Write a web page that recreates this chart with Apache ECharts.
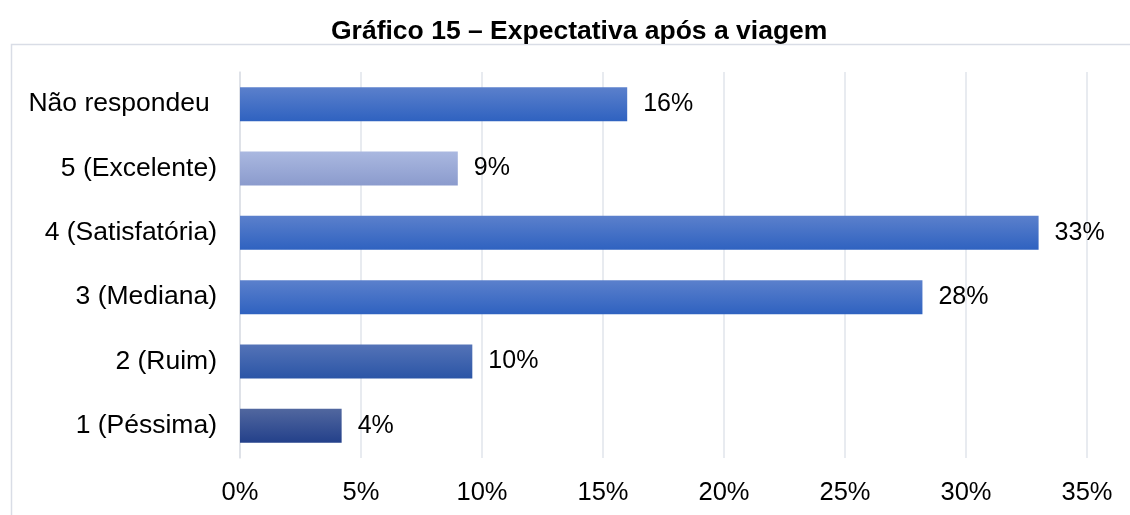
<!DOCTYPE html>
<html>
<head>
<meta charset="utf-8">
<script src="https://cdn.jsdelivr.net/npm/echarts@6/dist/echarts.min.js"></script>
<style>
	html, body { margin: 0; padding: 0; background: #fff; }
	#chart { width: 1130px; height: 515px; }
</style>
</head>
<body>
<div id="chart"></div>
<script>
// dados do gráfico (de baixo para cima, como no eixo de categorias)
var categorias = ["1 (Péssima)", "2 (Ruim)", "3 (Mediana)", "4 (Satisfatória)", "5 (Excelente)", "Não respondeu "];
var valores = [4.2, 9.6, 28.2, 33.0, 9.0, 16.0];
var rotulos = ["4%", "10%", "28%", "33%", "9%", "16%"];
var ticksX = [0, 5, 10, 15, 20, 25, 30, 35];

// gradiente de cada barra: [topo, base]
var cores = [
	["#51679f", "#23408a"],
	["#5473b7", "#2b55a6"],
	["#5b80cc", "#2f62c0"],
	["#5b80cc", "#2f62c0"],
	["#aab8e0", "#8b9bcd"],
	["#5b80cc", "#2f62c0"]
];

function grad(c) {
	return new echarts.graphic.LinearGradient(0, 0, 0, 1, [
		{ offset: 0, color: c[0] },
		{ offset: 1, color: c[1] }
	]);
}

var dados = valores.map(function (v, i) {
	return {
		value: v,
		itemStyle: { color: grad(cores[i]) },
		label: { formatter: rotulos[i] }
	};
});

var myChart = echarts.init(document.getElementById("chart"));
var option = {
	animation: false,
	title: {
		text: "Gráfico 15 – Expectativa após a viagem",
		left: 326,
		top: 13,
		textStyle: {
			fontFamily: "Liberation Sans",
			fontSize: 26.5,
			fontWeight: "bold",
			color: "#000"
		}
	},
	graphic: [{
		type: "rect",
		left: 9,
		top: 42,
		z: -1,
		shape: { width: 1200, height: 600 },
		style: { fill: "none", stroke: "#d9dde6", lineWidth: 1.5 }
	}],
	grid: {
		left: 240,
		right: 43,
		top: 72,
		bottom: 57
	},
	xAxis: {
		type: "value",
		min: ticksX[0],
		max: ticksX[ticksX.length - 1],
		interval: 5,
		axisLine: { show: false },
		axisTick: { show: false },
		splitLine: { lineStyle: { color: "#e1e4eb", width: 1.5 } },
		axisLabel: {
			margin: 22,
			fontFamily: "Liberation Sans",
			fontSize: 25.5,
			color: "#000",
			formatter: "{value}%"
		}
	},
	yAxis: {
		type: "category",
		data: categorias,
		axisLine: { lineStyle: { color: "#dcdfe6", width: 1.5 } },
		axisTick: { length: 8, lineStyle: { color: "#dcdfe6", width: 1.5 } },
		axisLabel: {
			margin: 23,
			fontFamily: "Liberation Sans",
			fontSize: 26.5,
			color: "#000"
		}
	},
	series: [{
		type: "bar",
		data: dados,
		barWidth: 34,
		label: {
			show: true,
			position: "right",
			distance: 16,
			fontFamily: "Liberation Sans",
			fontSize: 25,
			color: "#000"
		}
	}]
};
myChart.setOption(option);
</script>
</body>
</html>
